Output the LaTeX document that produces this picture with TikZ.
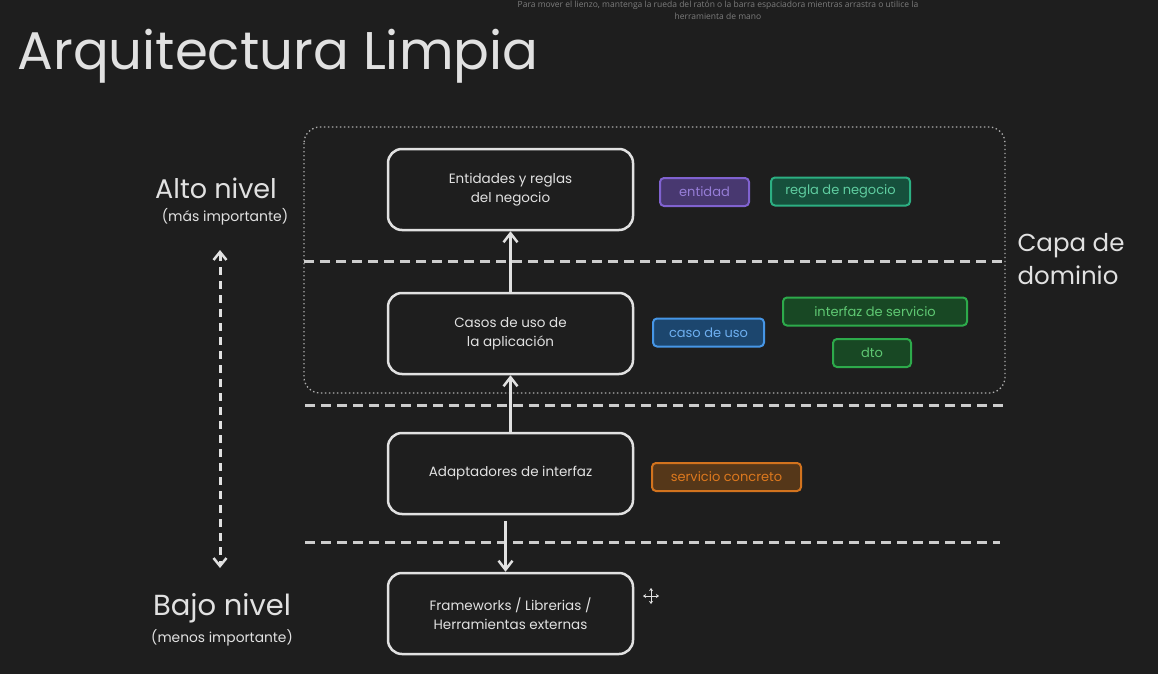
\documentclass[tikz,border=0pt]{standalone}
\usepackage{fontspec}
\setmainfont{Poppins}
\newfontfamily\hintfont{Open Sans}
\usetikzlibrary{arrows.meta}
\definecolor{bg}{RGB}{30,30,30}
\definecolor{fg}{RGB}{225,225,225}
\definecolor{dashc}{RGB}{205,205,205}
\definecolor{hintc}{RGB}{125,125,125}
\definecolor{purS}{RGB}{128,98,208}
\definecolor{purF}{RGB}{72,56,112}
\definecolor{purT}{RGB}{150,125,215}
\definecolor{tealS}{RGB}{44,175,130}
\definecolor{tealF}{RGB}{22,80,60}
\definecolor{tealT}{RGB}{95,205,160}
\definecolor{bluS}{RGB}{70,150,230}
\definecolor{bluF}{RGB}{28,70,110}
\definecolor{bluT}{RGB}{110,175,240}
\definecolor{grnS}{RGB}{45,170,75}
\definecolor{grnF}{RGB}{24,72,36}
\definecolor{grnT}{RGB}{95,200,115}
\definecolor{orgS}{RGB}{210,115,30}
\definecolor{orgF}{RGB}{85,55,25}
\definecolor{orgT}{RGB}{220,120,30}
\begin{document}
\begin{tikzpicture}[x=1pt,y=-1pt,
  layerbox/.style={draw=fg, line width=2.5pt, rounded corners=14pt, minimum width=245pt,
    minimum height=81pt, align=center, text=fg, font=\fontsize{13.5}{19}\selectfont},
  tagbox/.style={rounded corners=4pt, line width=2pt, minimum height=28pt, inner sep=0pt,
    font=\fontsize{13}{15}\selectfont},
  sepline/.style={draw=dashc, line width=3pt, dash pattern=on 10pt off 6pt},
  flow/.style={draw=fg, line width=2.5pt, -{Straight Barb[length=9pt,width=14pt,line width=2.5pt]}},
  lbl/.style={text=fg, align=center}
]
\fill[bg] (0,0) rectangle (1158,674);
\useasboundingbox (0,0) rectangle (1158,674);

% hint text
\node[text=hintc, font=\hintfont\fontsize{8.5}{12}\selectfont, align=center] (hint) at (718,10)
  {Para mover el lienzo, mantenga la rueda del ratón o la barra espaciadora mientras arrastra o utilice la\\herramienta de mano};

% title
\node[text=fg, anchor=base west, font=\fontsize{53}{58}\selectfont] (title) at (14,70) {Arquitectura Limpia};

% domain layer dotted box
\draw[draw=dashc!85!black, line width=1.3pt, dash pattern=on 1.4pt off 2.6pt, rounded corners=16pt]
  (304,127) rectangle (1005,393);
\node[lbl, anchor=west, align=left, font=\fontsize{24.5}{33}\selectfont] (capa) at (1014,259) {Capa de\\dominio};

% separators
\draw[sepline] (304,261) -- (1003,261);
\draw[sepline] (305,405) -- (1003,405);
\draw[sepline] (305,542) -- (1000,542);

% layers
\node[layerbox] (ent) at (510.5,189.5) {Entidades y reglas\\del negocio};
\node[layerbox] (cas) at (510.5,333.5) {Casos de uso de\\la aplicación};
\node[layerbox] (ada) at (510.5,473.5) {Adaptadores de interfaz};
\node[layerbox] (fra) at (510.5,613.5) {Frameworks / Librerias /\\Herramientas externas};

% connectors
\draw[flow] (cas.north) -- (ent.south);
\draw[flow] (ada.north) -- (cas.south);
\coordinate (adaout) at ([xshift=-5pt,yshift=-6pt]ada.south);
\draw[flow] (adaout) -- (adaout |- fra.north);

% tags
\node[tagbox, draw=purS, fill=purF, text=purT, minimum width=89pt] (tent) at (704.5,192) {entidad};
\node[tagbox, draw=tealS, fill=tealF, text=tealT, minimum width=139pt] (treg) at (840.5,191.5) {regla de negocio};
\node[tagbox, draw=bluS, fill=bluF, text=bluT, minimum width=111pt] (tcas) at (708.5,332.5) {caso de uso};
\node[tagbox, draw=grnS, fill=grnF, text=grnT, minimum width=184pt] (tint) at (875,311.5) {interfaz de servicio};
\node[tagbox, draw=grnS, fill=grnF, text=grnT, minimum width=78pt] (tdto) at (872,353) {dto};
\node[tagbox, draw=orgS, fill=orgF, text=orgT, minimum width=149pt] (tser) at (726.5,477) {servicio concreto};

% left level axis
\node[lbl, font=\fontsize{27}{30}\selectfont] (alto) at (216,188) {Alto nivel};
\node[lbl, font=\fontsize{14}{16}\selectfont] (altos) at (225,217) {(más importante)};
\node[lbl, font=\fontsize{29}{32}\selectfont] (bajo) at (222,608) {Bajo nivel};
\node[lbl, font=\fontsize{13.8}{16}\selectfont] (bajos) at (222,638) {(menos importante)};
\coordinate (axtop) at (220,250);
\coordinate (axbot) at (220,568);
\draw[draw=fg, line width=3pt, dash pattern=on 8pt off 6pt,
  {Straight Barb[length=8pt,width=13pt,line width=2.5pt]}-{Straight Barb[length=8pt,width=13pt,line width=2.5pt]}]
  (axtop) -- (axbot);

% move cursor
\coordinate (cur) at (651,596);
\foreach \dx/\dy in {0/-8,0/8,-8/0,8/0}
  \draw[fg, line width=1pt, -{Stealth[length=3pt,width=4pt]}] (cur) -- ++(\dx,\dy);
\end{tikzpicture}
\end{document}
